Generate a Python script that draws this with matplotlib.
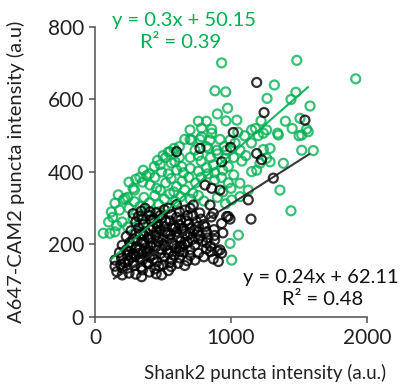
import matplotlib
matplotlib.use("Agg")
import matplotlib.pyplot as plt

# green series (Shank2 vs A647-CAM2)
green_x = [931, 1484, 1917, 1319, 882, 961, 1477, 1265, 1441, 1581, 975, 1221, 963, 1043, 1507, 1556,
           699, 784, 858, 1152, 1262, 1343, 1238, 1568, 1520, 711, 784, 858,
           699, 772, 846, 919, 993, 735, 833, 895, 968, 1066, 1238, 1287, 1520, 1605, 551, 1348,
           355, 436, 588, 637, 1385, 1287, 1262, 1213, 1189, 1152, 490, 540, 600, 650, 700, 760,
           820, 880, 940, 980, 1020, 1080, 1110, 700, 760, 850, 900, 960, 520, 460,
           404, 453, 1066, 1127, 1360, 300, 350, 380, 250, 280, 520, 560, 600, 640, 690, 740,
           780, 830, 880, 930, 980, 1020, 440, 480, 580, 660, 720, 940, 1000,
           171, 208, 147, 221, 1066, 1005, 1441, 250, 290, 330, 360, 400, 440, 470, 510, 550,
           590, 630, 700, 760, 800, 900, 960, 180, 120,
           61, 110, 147, 100, 130, 160, 200, 240, 280, 330, 380, 430, 470, 1054, 993, 1005,
           500, 540, 580, 620, 660, 620, 560, 480, 400, 330, 290, 240,
           820, 780, 870, 950, 1030, 1100, 1180, 1050, 1400, 1450, 1500, 1150, 1200, 900, 820, 760]
green_y = [701, 708, 657, 640, 624, 621, 620, 603, 600, 582, 576, 541, 541, 543, 548, 518,
           516, 521, 518, 516, 516, 507, 507, 511, 502, 488, 497, 507,
           490, 490, 488, 490, 488, 460, 465, 460, 460, 460, 462, 465, 460, 459, 456, 502,
           405, 415, 428, 415, 424, 428, 438, 424, 405, 401, 400, 395, 405, 398, 410, 402,
           412, 398, 405, 415, 440, 430, 445, 440, 445, 440, 450, 438, 440, 432,
           364, 355, 369, 350, 350, 380, 372, 390, 372, 355, 370, 382, 360, 375, 385, 370,
           385, 395, 378, 385, 370, 392, 385, 350, 345, 350, 342, 345, 355,
           337, 323, 314, 327, 332, 323, 293, 300, 318, 305, 330, 315, 335, 310, 325, 340,
           318, 332, 325, 335, 320, 330, 312, 295, 290,
           231, 231, 235, 262, 275, 252, 262, 248, 272, 258, 282, 266, 290, 226, 203, 157,
           445, 455, 465, 470, 490, 440, 425, 420, 395, 385, 350, 330,
           470, 430, 420, 470, 480, 500, 520, 510, 540, 520, 500, 480, 500, 560, 540, 540]

# black series
black_x = [1189, 1243, 1544, 1017, 997, 1189, 1225, 1311, 1127, 1147, 907, 600, 772, 932, 809, 858,
           919, 368, 404, 662, 723, 846, 870, 318, 490, 968, 993,
           160, 200, 250, 300, 343, 400, 450, 490, 540,
           147, 190, 240, 290, 340, 390, 440, 500, 560, 610, 660,
           147, 195, 245, 295, 350, 400, 455, 510, 565, 620, 680, 735, 800, 870,
           180, 230, 280, 330, 385, 430, 490, 540, 595, 650, 700, 760, 820, 900, 931,
           200, 255, 305, 360, 410, 465, 515, 570, 625, 680, 735, 790, 850, 919,
           230, 280, 335, 390, 445, 500, 555, 605, 660, 715, 770, 830, 880,
           265, 320, 370, 425, 480, 535, 590, 645, 700, 755, 810, 875, 940,
           300, 355, 410, 460, 520, 575, 630, 690, 745, 800, 931, 980,
           280, 340, 400, 450, 510, 560, 620, 680, 770, 855,
           220, 270, 320, 370, 420, 470, 520, 570, 620, 670, 720, 260, 310, 360, 410, 460,
           510, 200, 350, 470, 580, 640, 700, 760, 820, 880, 850, 700, 620, 550,
           330, 380, 430, 480, 530, 580, 630, 680, 730, 280, 240, 300, 350, 400, 450, 500,
           550, 600, 650, 400, 450, 350, 250, 300, 550, 600, 350, 430, 480, 660, 760, 820,
           780, 700, 540, 600]
black_y = [647, 564, 543, 509, 468, 451, 434, 383, 323, 270, 153, 456, 465, 428, 364, 355,
           350, 300, 290, 295, 309, 309, 286, 277, 272, 277, 270,
           125, 116, 121, 118, 111, 124, 119, 116, 128,
           140, 145, 135, 142, 138, 147, 133, 144, 139, 148, 142,
           157, 162, 155, 168, 158, 165, 152, 166, 158, 163, 155, 157, 166, 160,
           178, 185, 175, 188, 180, 172, 186, 176, 189, 179, 185, 176, 188, 182, 176,
           198, 205, 193, 207, 196, 208, 195, 204, 192, 206, 198, 209, 195, 185,
           222, 215, 228, 218, 225, 213, 227, 219, 229, 214, 224, 218, 212,
           238, 245, 235, 248, 240, 233, 247, 238, 244, 235, 249, 241, 232,
           262, 255, 268, 258, 265, 252, 268, 257, 263, 255, 258, 277,
           285, 292, 280, 288, 296, 283, 290, 280, 287, 276,
           150, 165, 175, 190, 205, 220, 235, 245, 255, 265, 280, 195, 210, 225, 240, 250,
           250, 135, 130, 140, 170, 195, 230, 250, 235, 225, 180, 170, 180, 150,
           160, 150, 160, 175, 185, 200, 210, 225, 240, 150, 170, 190, 205, 215, 235, 200,
           215, 235, 245, 180, 195, 175, 180, 230, 265, 275, 270, 270, 280, 200, 215, 205,
           270, 300, 300, 310]

# trend lines as drawn in the picture
green_fit_x = [118, 1566]
green_fit_y = [159, 634]
black_fit_x = [140, 1574]
black_fit_y = [106, 449]

green_eq = ["y = 0.3x + 50.15", "R² = 0.39"]
black_eq = ["y = 0.24x + 62.11", "R² = 0.48"]

GREEN = '#00B050'
AXCOL = '#505050'

plt.rcParams['font.family'] = ['Lato', 'DejaVu Sans']

fig = plt.figure(figsize=(4.01, 3.90), dpi=100)
ax = fig.add_axes([0.2369, 0.1872, 0.6783, 0.7436])

ax.scatter(green_x, green_y, s=42, facecolors='none', edgecolors=GREEN,
           linewidths=1.6, alpha=0.78, zorder=2)
ax.scatter(black_x, black_y, s=42, facecolors='none', edgecolors='#000000',
           linewidths=1.6, alpha=0.8, zorder=3)
ax.plot(green_fit_x, green_fit_y, color=GREEN, lw=1.5, alpha=0.9, zorder=4)
ax.plot(black_fit_x, black_fit_y, color='#222222', lw=1.5, alpha=0.9, zorder=4)

ax.set_xlim(0, 2000)
ax.set_ylim(0, 800)
ax.set_xticks([0, 1000, 2000])
ax.set_yticks([0, 200, 400, 600, 800])

for s in ['top', 'right']:
    ax.spines[s].set_visible(False)
for s in ['left', 'bottom']:
    ax.spines[s].set_color(AXCOL)
    ax.spines[s].set_linewidth(1.1)
ax.tick_params(direction='out', length=4, width=1.1, color=AXCOL,
               labelsize=15, labelcolor='#222222', pad=4)

ax.set_xlabel('Shank2 puncta intensity (a.u.)', fontsize=13.5, color='#222222')
ax.set_ylabel('A647-CAM2 puncta intensity (a.u)', fontsize=14.5, color='#222222')
ax.xaxis.set_label_coords(0.625, -0.193)
ax.xaxis.label.set_verticalalignment('center')
ax.yaxis.set_label_coords(-0.29, 0.5)
ax.yaxis.label.set_verticalalignment('center')

ax.text(658, 819, green_eq[0], color=GREEN, fontsize=14.5, ha='center', va='center', clip_on=False)
ax.text(632, 756, green_eq[1], color=GREEN, fontsize=14.5, ha='center', va='center', clip_on=False)
ax.text(1662, 108, black_eq[0], color='#111111', fontsize=14.5, ha='center', va='center', clip_on=False)
ax.text(1676, 47, black_eq[1], color='#111111', fontsize=14.5, ha='center', va='center', clip_on=False)

fig.savefig('out.png', dpi=100)
